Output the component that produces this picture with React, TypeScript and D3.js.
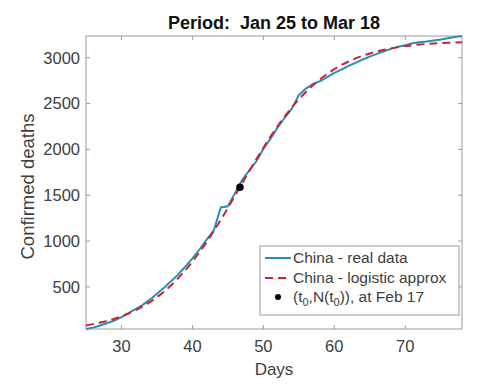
import { useEffect, useRef } from 'react'
import * as d3 from 'd3'

const title = 'Period:  Jan 25 to Mar 18'
const days = d3.range(25, 79)
// China cumulative deaths
const realDeaths = [
  41, 56, 80, 106, 132, 170, 213, 259, 304, 361,
  425, 490, 563, 636, 722, 811, 908, 1016, 1113, 1367,
  1380, 1523, 1665, 1770, 1868, 2004, 2118, 2236, 2345, 2442,
  2592, 2663, 2715, 2744, 2788, 2835, 2870, 2912, 2943, 2981,
  3012, 3042, 3070, 3097, 3119, 3136, 3158, 3169, 3176, 3189,
  3199, 3213, 3226, 3237,
]
const logisticDeaths = [
  80, 94, 111, 130, 153, 179, 210, 246, 287, 334,
  388, 449, 518, 596, 681, 776, 879, 989, 1108, 1232,
  1362, 1494, 1628, 1761, 1891, 2018, 2139, 2253, 2359, 2457,
  2546, 2626, 2700, 2765, 2824, 2876, 2920, 2959, 2993, 3022,
  3047, 3068, 3086, 3102, 3115, 3127, 3136, 3144, 3150, 3155,
  3159, 3163, 3166, 3169,
]
const midPoint = { t: 46.7, n: 1588 }
const xTicks = [30, 40, 50, 60, 70]
const yTicks = [500, 1000, 1500, 2000, 2500, 3000]
const legendLabels = ['China - real data', 'China - logistic approx']

export default function App() {
  const ref = useRef<SVGSVGElement | null>(null)

  useEffect(() => {
    const width = 484
    const height = 386
    const margin = { top: 36, right: 22, bottom: 57, left: 86 }
    const innerW = width - margin.left - margin.right
    const innerH = height - margin.top - margin.bottom
    const font = '"Liberation Sans", Arial, sans-serif'
    const axisColor = '#9a9a9a'
    const textColor = '#404040'
    const blue = '#2b8db3'
    const red = '#cc2233'

    const svg = d3.select(ref.current)
    svg.selectAll('*').remove()
    svg.attr('width', width).attr('height', height).style('font-family', font)
    svg.append('rect').attr('width', width).attr('height', height).attr('fill', '#fff')

    const g = svg.append('g').attr('transform', `translate(${margin.left},${margin.top})`)

    const x = d3.scaleLinear().domain([25, 78]).range([0, innerW])
    const y = d3.scaleLinear().domain([d3.min(realDeaths)!, d3.max(realDeaths)!]).range([innerH, 0])

    // box + inward ticks on all sides (matlab style)
    g.append('rect')
      .attr('width', innerW)
      .attr('height', innerH)
      .attr('fill', 'none')
      .attr('stroke', axisColor)
      .attr('stroke-width', 1)

    const tl = 4
    xTicks.forEach((t) => {
      g.append('line').attr('x1', x(t)).attr('x2', x(t)).attr('y1', innerH).attr('y2', innerH - tl).attr('stroke', axisColor)
      g.append('line').attr('x1', x(t)).attr('x2', x(t)).attr('y1', 0).attr('y2', tl).attr('stroke', axisColor)
      g.append('text')
        .attr('x', x(t))
        .attr('y', innerH + 23)
        .attr('text-anchor', 'middle')
        .attr('fill', textColor)
        .style('font-size', '16.5px')
        .text(t)
    })
    yTicks.forEach((t) => {
      g.append('line').attr('x1', 0).attr('x2', tl).attr('y1', y(t)).attr('y2', y(t)).attr('stroke', axisColor)
      g.append('line').attr('x1', innerW).attr('x2', innerW - tl).attr('y1', y(t)).attr('y2', y(t)).attr('stroke', axisColor)
      g.append('text')
        .attr('x', -6)
        .attr('y', y(t))
        .attr('dy', '0.35em')
        .attr('text-anchor', 'end')
        .attr('fill', textColor)
        .style('font-size', '16.5px')
        .text(t)
    })

    svg.append('text')
      .attr('x', margin.left + innerW / 2)
      .attr('y', 29)
      .attr('text-anchor', 'middle')
      .attr('fill', '#111')
      .style('font-size', '18px')
      .style('font-weight', 'bold')
      .style('white-space', 'pre')
      .text(title)

    svg.append('text')
      .attr('x', margin.left + innerW / 2)
      .attr('y', 375)
      .attr('text-anchor', 'middle')
      .attr('fill', textColor)
      .style('font-size', '17px')
      .text('Days')

    svg.append('text')
      .attr('transform', `translate(34,${margin.top + innerH / 2 + 4}) rotate(-90)`)
      .attr('text-anchor', 'middle')
      .attr('fill', textColor)
      .style('font-size', '18.5px')
      .text('Confirmed deaths')

    const realLine = d3.line<number>().x((_, i) => x(days[i])).y((d) => y(d))
    g.append('path')
      .datum(realDeaths)
      .attr('fill', 'none')
      .attr('stroke', blue)
      .attr('stroke-width', 2)
      .attr('d', realLine)

    const fitLine = d3.line<number>().x((_, i) => x(days[i])).y((d) => y(d)).curve(d3.curveMonotoneX)
    g.append('path')
      .datum(logisticDeaths)
      .attr('fill', 'none')
      .attr('stroke', red)
      .attr('stroke-width', 2)
      .attr('stroke-dasharray', '8 5')
      .attr('d', fitLine)

    g.append('circle')
      .attr('cx', x(midPoint.t))
      .attr('cy', y(midPoint.n))
      .attr('r', 3.8)
      .attr('fill', '#000')

    // legend
    const lg = svg.append('g').attr('transform', 'translate(260,246)')
    lg.append('rect')
      .attr('width', 199)
      .attr('height', 69)
      .attr('fill', '#fff')
      .attr('stroke', axisColor)
    const rowY = [12, 32, 51]
    lg.append('line').attr('x1', 5).attr('x2', 31).attr('y1', rowY[0]).attr('y2', rowY[0])
      .attr('stroke', blue).attr('stroke-width', 2)
    lg.append('line').attr('x1', 5).attr('x2', 31).attr('y1', rowY[1]).attr('y2', rowY[1])
      .attr('stroke', red).attr('stroke-width', 2).attr('stroke-dasharray', '8 5')
    lg.append('circle').attr('cx', 18).attr('cy', rowY[2]).attr('r', 3).attr('fill', '#000')
    legendLabels.forEach((l, i) => {
      lg.append('text')
        .attr('x', 33)
        .attr('y', rowY[i])
        .attr('dy', '0.35em')
        .attr('fill', textColor)
        .style('font-size', '15.5px')
        .text(l)
    })
    const t3 = lg.append('text')
      .attr('x', 33)
      .attr('y', rowY[2])
      .attr('dy', '0.35em')
      .attr('fill', textColor)
      .style('font-size', '15.5px')
    t3.append('tspan').text('(t')
    t3.append('tspan').attr('dy', 4).style('font-size', '11px').text('0')
    t3.append('tspan').attr('dy', -4).text(',N(t')
    t3.append('tspan').attr('dy', 4).style('font-size', '11px').text('0')
    t3.append('tspan').attr('dy', -4).text(')), at Feb 17')
  }, [])

  return <svg ref={ref} style={{ position: 'absolute', left: 0, top: 0 }} />
}
